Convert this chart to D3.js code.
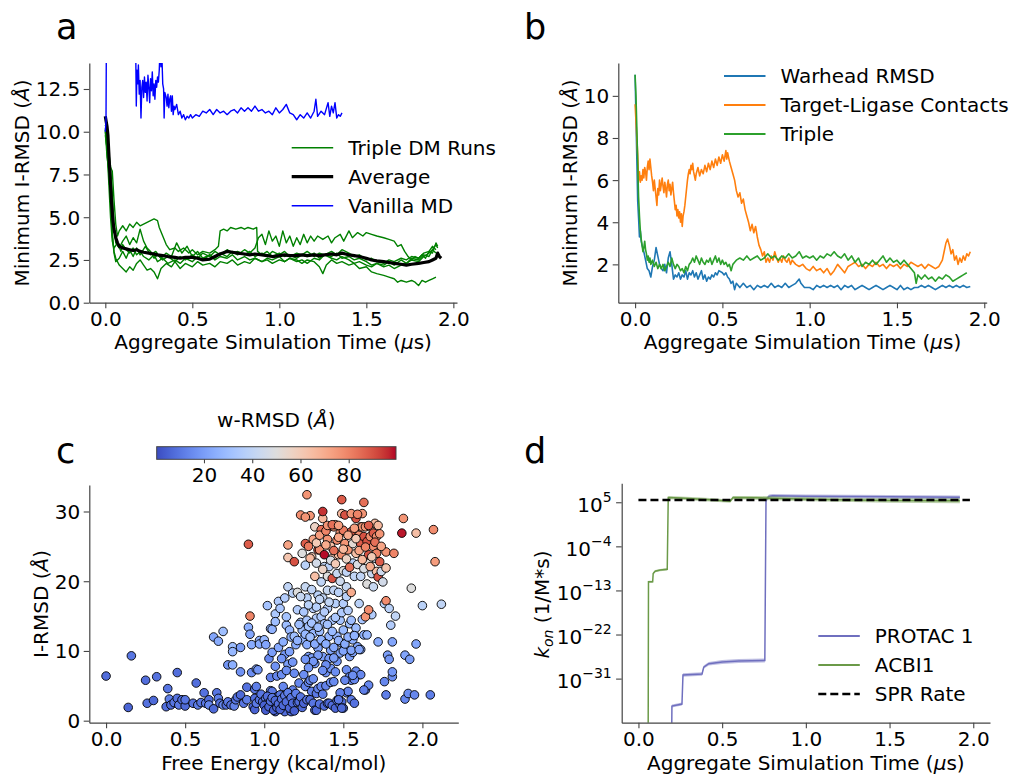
<!DOCTYPE html>
<html>
<head>
<meta charset="utf-8">
<script src="https://cdn.jsdelivr.net/npm/d3@7"></script>
<style>
  body { margin: 0; background: #fff; }
  svg { display: block; }
  text { font-family: "DejaVu Sans", sans-serif; fill: #000; }
</style>
</head>
<body>
<script>
// ---------------- data ----------------
// panel a : [time (us), min I-RMSD (A)]
const vanillaMD = [[0,10.0],[0.004,10.6],[0.006,15],[0.012,16],[0.1,17],[0.17,16],[0.175,14.5],[0.178,11.5],[0.182,13.6],[0.186,12.8],[0.19,13.9],[0.195,12.2],[0.2,13.0],[0.205,10.8],[0.21,12.6],[0.215,13.0],[0.22,12.0],[0.225,13.2],[0.23,12.3],[0.235,12.9],[0.24,11.8],[0.245,13.3],[0.25,12.6],[0.255,11.7],[0.26,13.1],[0.265,12.4],[0.27,13.5],[0.275,12.1],[0.28,12.8],[0.285,11.9],[0.29,13.0],[0.295,12.6],[0.3,13.2],[0.305,12.9],[0.31,13.6],[0.315,15],[0.32,13.8],[0.325,14.5],[0.33,12.8],[0.335,12.5],[0.338,10.8],[0.342,12.3],[0.35,12.0],[0.355,11.5],[0.36,12.2],[0.365,11.4],[0.37,11.9],[0.375,12.1],[0.38,11.2],[0.385,12.1],[0.39,11.0],[0.395,11.5],[0.4,11.3],[0.41,11.6],[0.42,11.0],[0.43,11.2],[0.44,10.8],[0.45,11.0],[0.46,10.7],[0.47,10.9],[0.48,10.8],[0.49,11.0],[0.5,10.8],[0.52,11.0],[0.54,10.9],[0.56,11.2],[0.58,11.1],[0.6,11.3],[0.62,11.0],[0.64,11.3],[0.66,11.1],[0.68,11.2],[0.7,11.0],[0.72,11.2],[0.74,11.3],[0.76,11.1],[0.78,11.4],[0.8,11.2],[0.82,11.4],[0.84,11.2],[0.86,11.5],[0.88,11.2],[0.9,11.3],[0.92,11.1],[0.94,11.2],[0.96,11.0],[0.98,11.4],[1.0,11.1],[1.02,11.3],[1.04,11.6],[1.06,11.1],[1.08,11.0],[1.1,10.7],[1.12,11.0],[1.14,10.8],[1.16,11.1],[1.18,10.8],[1.2,11.2],[1.21,11.9],[1.22,10.9],[1.24,11.2],[1.26,11.0],[1.28,11.7],[1.29,10.9],[1.3,11.5],[1.31,11.1],[1.32,11.7],[1.33,10.8],[1.34,11.0],[1.35,10.9],[1.36,11.1]];

const dmRun1 = [[0,10.2],[0.01,9.5],[0.02,8.2],[0.03,7.9],[0.04,7.7],[0.05,6.0],[0.06,4.6],[0.07,3.9],[0.08,4.2],[0.1,4.5],[0.12,4.2],[0.14,4.6],[0.16,4.4],[0.18,4.7],[0.2,4.5],[0.22,4.6],[0.24,4.7],[0.26,4.8],[0.28,4.9],[0.3,4.8],[0.31,4.4],[0.33,3.9],[0.35,3.4],[0.37,3.1],[0.4,3.2],[0.42,3.0],[0.45,3.2],[0.48,2.9],[0.5,3.1],[0.53,2.8],[0.56,3.0],[0.6,2.9],[0.63,3.1],[0.65,3.3],[0.66,4.2],[0.68,4.3],[0.7,4.2],[0.72,4.4],[0.75,4.3],[0.78,4.4],[0.8,4.3],[0.82,4.4],[0.85,4.3],[0.87,4.4],[0.875,3.0],[0.9,2.8],[0.93,3.0],[0.96,2.7],[1.0,2.9],[1.03,2.7],[1.06,2.8],[1.1,2.6],[1.13,2.8],[1.16,2.7],[1.2,2.9],[1.23,2.6],[1.26,2.8],[1.3,2.7],[1.33,2.9],[1.36,2.6],[1.4,2.7],[1.43,2.5],[1.46,2.6],[1.5,2.4],[1.53,2.2],[1.56,2.3],[1.6,2.1],[1.63,2.2],[1.66,2.0],[1.7,2.2],[1.73,2.3],[1.76,2.5],[1.8,2.4],[1.83,2.7],[1.86,2.9],[1.88,3.1],[1.9,3.4],[1.91,3.2]];
const dmRun2 = [[0,10.0],[0.01,9.0],[0.02,7.0],[0.03,5.0],[0.04,3.6],[0.05,3.2],[0.07,3.5],[0.09,3.0],[0.1,3.4],[0.12,3.1],[0.14,2.9],[0.16,3.2],[0.18,2.8],[0.2,3.0],[0.22,2.7],[0.25,2.5],[0.28,2.8],[0.3,2.4],[0.33,2.6],[0.36,2.3],[0.4,2.5],[0.43,2.3],[0.46,2.6],[0.5,2.4],[0.53,2.7],[0.56,2.5],[0.6,2.8],[0.63,2.6],[0.66,2.9],[0.7,2.7],[0.73,3.0],[0.76,2.8],[0.8,3.1],[0.83,2.9],[0.86,3.2],[0.88,3.8],[0.9,4.0],[0.92,3.4],[0.94,4.2],[0.96,3.6],[0.98,3.9],[1.0,3.3],[1.02,4.2],[1.04,3.5],[1.06,3.9],[1.08,3.3],[1.1,3.8],[1.12,3.4],[1.14,4.0],[1.16,3.5],[1.18,3.9],[1.2,3.6],[1.22,3.9],[1.25,3.7],[1.28,3.9],[1.3,3.5],[1.32,3.8],[1.35,4.0],[1.37,3.6],[1.4,4.2],[1.42,3.8],[1.45,4.1],[1.48,3.9],[1.5,4.1],[1.53,4.0],[1.56,3.9],[1.6,3.8],[1.63,3.7],[1.66,3.6],[1.68,3.3],[1.7,3.4],[1.72,3.0],[1.74,2.7],[1.76,2.5],[1.78,2.7],[1.8,2.6],[1.82,2.8],[1.84,2.6],[1.86,3.0],[1.88,2.9],[1.9,3.5],[1.91,3.3]];
const dmRun3 = [[0,9.8],[0.01,9.0],[0.02,7.5],[0.03,6.2],[0.04,4.0],[0.05,2.9],[0.06,2.4],[0.08,2.6],[0.1,3.0],[0.12,2.6],[0.14,3.1],[0.16,2.7],[0.18,3.2],[0.2,2.8],[0.23,3.3],[0.26,2.8],[0.29,3.0],[0.32,2.6],[0.35,2.9],[0.38,2.7],[0.41,3.5],[0.44,2.9],[0.47,3.3],[0.5,2.7],[0.53,3.0],[0.56,2.6],[0.6,2.8],[0.63,2.5],[0.66,2.7],[0.7,2.6],[0.73,2.8],[0.76,2.5],[0.8,2.7],[0.83,2.5],[0.86,2.6],[0.9,2.4],[0.93,2.6],[0.96,2.5],[1.0,2.7],[1.03,2.4],[1.06,2.6],[1.1,2.5],[1.13,2.3],[1.16,2.5],[1.2,2.4],[1.23,2.1],[1.25,1.7],[1.27,2.2],[1.3,2.5],[1.33,2.3],[1.36,2.4],[1.4,2.2],[1.43,2.3],[1.46,2.0],[1.5,2.1],[1.53,1.8],[1.56,1.7],[1.6,1.6],[1.63,1.5],[1.66,1.4],[1.68,1.2],[1.7,1.3],[1.73,1.2],[1.76,1.3],[1.78,1.2],[1.8,1.0],[1.82,1.3],[1.84,1.2],[1.86,1.3],[1.88,1.4],[1.9,1.5]];
const dmRun4 = [[0,10.1],[0.01,8.5],[0.02,7.8],[0.03,6.0],[0.04,4.0],[0.05,3.0],[0.06,2.6],[0.08,2.2],[0.1,2.0],[0.12,1.8],[0.14,2.1],[0.16,1.9],[0.18,2.3],[0.2,2.5],[0.22,2.2],[0.24,1.9],[0.26,2.0],[0.28,1.8],[0.3,1.4],[0.32,2.0],[0.35,2.3],[0.38,2.1],[0.4,2.4],[0.43,2.0],[0.46,2.3],[0.5,2.1],[0.53,2.4],[0.56,2.2],[0.6,2.3],[0.63,2.1],[0.66,2.4],[0.7,2.3],[0.73,2.5],[0.76,2.2],[0.8,2.4],[0.83,2.3],[0.86,2.6],[0.9,2.4],[0.93,2.5],[0.96,2.3],[1.0,2.5],[1.03,2.4],[1.06,2.6],[1.1,2.4],[1.13,2.5],[1.16,2.3],[1.2,2.6],[1.23,2.5],[1.26,2.8],[1.3,2.6],[1.33,2.5],[1.36,2.7],[1.4,2.5],[1.43,2.3],[1.46,2.4],[1.5,2.2],[1.53,2.1],[1.56,2.3],[1.6,2.2],[1.63,2.4],[1.66,2.2],[1.7,2.5],[1.73,2.3],[1.76,2.6],[1.8,2.5],[1.83,2.8],[1.86,2.7],[1.88,3.1],[1.9,2.9]];
const dmRun5 = [[0,10.4],[0.01,10.0],[0.02,8.8],[0.03,8.0],[0.04,6.5],[0.05,4.5],[0.06,3.5],[0.08,3.2],[0.1,3.6],[0.12,3.9],[0.14,3.4],[0.16,3.8],[0.18,3.5],[0.2,4.3],[0.22,3.6],[0.24,3.2],[0.26,3.0],[0.28,2.6],[0.3,2.8],[0.33,2.5],[0.36,2.7],[0.4,2.4],[0.43,2.7],[0.46,2.5],[0.5,2.8],[0.53,2.6],[0.56,2.9],[0.6,2.7],[0.63,3.0],[0.66,2.8],[0.7,3.1],[0.73,2.9],[0.76,3.0],[0.8,2.8],[0.83,3.0],[0.86,2.7],[0.9,2.9],[0.93,2.7],[0.96,3.0],[1.0,2.8],[1.03,3.0],[1.06,2.7],[1.1,2.9],[1.13,2.8],[1.16,3.0],[1.2,2.7],[1.23,2.9],[1.26,2.8],[1.3,3.0],[1.33,2.8],[1.36,3.1],[1.4,2.9],[1.43,2.7],[1.46,2.8],[1.5,2.5],[1.53,2.6],[1.56,2.4],[1.6,2.3],[1.63,2.5],[1.66,2.4],[1.7,2.6],[1.73,2.5],[1.76,2.7],[1.8,2.6],[1.83,2.9],[1.86,3.0],[1.88,3.3],[1.9,3.1]];
const dmAverage = [[0,10.9],[0.005,10.6],[0.01,10.3],[0.015,9.8],[0.02,8.8],[0.025,7.8],[0.03,6.9],[0.035,6.0],[0.04,5.3],[0.045,4.7],[0.05,4.3],[0.06,3.8],[0.07,3.5],[0.08,3.3],[0.1,3.2],[0.12,3.15],[0.14,3.1],[0.16,3.05],[0.18,3.1],[0.2,3.0],[0.22,2.95],[0.25,2.9],[0.28,2.85],[0.3,2.8],[0.33,2.75],[0.36,2.7],[0.4,2.65],[0.43,2.6],[0.46,2.65],[0.5,2.65],[0.53,2.6],[0.56,2.5],[0.6,2.55],[0.63,2.7],[0.66,2.85],[0.7,3.0],[0.73,2.95],[0.76,2.9],[0.8,2.85],[0.83,2.8],[0.86,2.85],[0.9,2.8],[0.93,2.75],[0.96,2.7],[1.0,2.75],[1.03,2.8],[1.06,2.75],[1.1,2.75],[1.13,2.8],[1.16,2.75],[1.2,2.8],[1.23,2.75],[1.26,2.8],[1.3,2.85],[1.33,2.8],[1.36,2.9],[1.38,2.85],[1.4,2.8],[1.43,2.75],[1.46,2.7],[1.5,2.6],[1.53,2.5],[1.56,2.45],[1.6,2.4],[1.63,2.35],[1.66,2.3],[1.7,2.25],[1.73,2.2],[1.76,2.25],[1.8,2.3],[1.83,2.35],[1.86,2.4],[1.88,2.5],[1.9,2.6],[1.91,2.9],[1.92,2.7],[1.93,2.6]];

// panel b : [time (us), min I-RMSD (A)]
const warheadRMSD = [[0,11.0],[0.005,9.0],[0.01,7.0],[0.015,5.0],[0.02,4.2],[0.025,3.3],[0.03,3.6],[0.035,3.1],[0.04,2.9],[0.05,2.6],[0.06,2.2],[0.07,1.8],[0.08,1.7],[0.09,1.4],[0.1,1.9],[0.11,2.2],[0.12,2.8],[0.13,2.4],[0.14,2.0],[0.15,1.8],[0.16,1.7],[0.17,2.0],[0.18,1.6],[0.19,2.3],[0.2,2.6],[0.21,2.0],[0.22,1.3],[0.23,1.5],[0.24,1.4],[0.25,1.6],[0.26,1.3],[0.27,1.5],[0.28,1.4],[0.29,1.7],[0.3,1.3],[0.31,1.6],[0.32,1.5],[0.33,1.7],[0.34,1.4],[0.35,1.6],[0.36,1.3],[0.37,1.5],[0.38,1.7],[0.39,1.3],[0.4,1.5],[0.41,1.2],[0.42,1.4],[0.43,1.3],[0.44,1.5],[0.45,1.4],[0.46,1.6],[0.47,1.5],[0.48,1.7],[0.5,1.6],[0.51,1.5],[0.52,1.6],[0.53,1.4],[0.54,1.3],[0.55,1.1],[0.56,1.2],[0.57,0.8],[0.58,1.1],[0.6,0.9],[0.62,1.1],[0.64,0.9],[0.66,1.0],[0.68,0.8],[0.7,1.0],[0.72,0.9],[0.74,1.0],[0.76,0.9],[0.78,1.1],[0.8,0.9],[0.82,1.0],[0.84,0.9],[0.86,1.1],[0.88,0.9],[0.9,1.0],[0.92,1.1],[0.94,1.3],[0.95,1.1],[0.97,0.9],[1.0,0.9],[1.02,0.8],[1.04,1.0],[1.06,0.9],[1.08,1.0],[1.1,0.9],[1.12,1.0],[1.14,0.9],[1.16,1.0],[1.18,0.8],[1.2,1.0],[1.22,0.9],[1.24,1.0],[1.26,0.8],[1.28,0.9],[1.3,1.0],[1.32,0.9],[1.34,0.8],[1.36,0.9],[1.38,1.0],[1.4,0.9],[1.42,0.8],[1.44,0.9],[1.46,1.0],[1.48,0.9],[1.5,0.8],[1.52,1.0],[1.54,0.8],[1.56,0.9],[1.58,0.8],[1.6,0.9],[1.62,0.9],[1.64,1.0],[1.66,0.9],[1.68,1.0],[1.7,0.9],[1.72,0.8],[1.74,0.9],[1.76,1.0],[1.78,0.9],[1.8,1.0],[1.82,0.9],[1.84,1.0],[1.86,0.9],[1.88,1.0],[1.9,0.9],[1.92,0.95]];
const ligaseContacts = [[0,9.6],[0.005,8.8],[0.01,8.0],[0.015,7.2],[0.02,6.0],[0.025,6.4],[0.03,5.9],[0.035,6.2],[0.04,6.0],[0.045,6.5],[0.05,6.1],[0.055,6.6],[0.06,6.4],[0.065,6.0],[0.07,6.6],[0.075,6.9],[0.08,6.5],[0.085,7.0],[0.09,6.6],[0.095,6.2],[0.1,5.9],[0.105,5.5],[0.11,6.0],[0.115,5.6],[0.12,5.2],[0.125,4.8],[0.13,5.6],[0.135,5.3],[0.14,6.0],[0.145,5.5],[0.15,5.8],[0.155,6.1],[0.16,5.7],[0.165,5.4],[0.17,5.9],[0.175,5.6],[0.18,5.2],[0.185,5.8],[0.19,6.0],[0.195,5.5],[0.2,5.8],[0.205,5.3],[0.21,5.6],[0.215,5.9],[0.22,5.4],[0.225,5.0],[0.23,4.6],[0.235,4.8],[0.24,4.3],[0.245,4.6],[0.25,4.2],[0.255,4.5],[0.26,4.0],[0.265,4.4],[0.27,3.8],[0.275,4.3],[0.28,4.5],[0.285,4.8],[0.29,5.2],[0.295,5.6],[0.3,6.0],[0.305,6.3],[0.31,6.5],[0.315,6.3],[0.32,6.7],[0.325,6.5],[0.33,6.8],[0.335,6.4],[0.34,6.2],[0.345,6.0],[0.35,6.3],[0.36,6.6],[0.37,6.2],[0.38,6.5],[0.39,6.3],[0.4,6.7],[0.41,6.4],[0.42,6.8],[0.43,6.5],[0.44,6.9],[0.45,6.6],[0.46,7.0],[0.47,6.7],[0.48,7.1],[0.49,6.8],[0.5,7.2],[0.51,6.9],[0.52,7.4],[0.525,7.0],[0.53,7.3],[0.54,6.9],[0.55,6.6],[0.56,6.3],[0.57,6.0],[0.58,5.5],[0.59,5.2],[0.6,5.4],[0.61,4.9],[0.62,5.1],[0.63,4.6],[0.64,4.3],[0.65,4.0],[0.66,3.6],[0.67,3.9],[0.68,3.5],[0.69,3.8],[0.7,3.3],[0.71,2.9],[0.72,2.7],[0.73,2.4],[0.74,2.6],[0.75,2.1],[0.76,2.3],[0.77,2.1],[0.78,2.4],[0.79,2.2],[0.8,2.6],[0.81,2.3],[0.82,2.1],[0.83,2.3],[0.84,2.1],[0.85,2.4],[0.86,2.2],[0.87,2.1],[0.88,2.3],[0.89,2.0],[0.9,2.2],[0.92,2.0],[0.94,1.9],[0.96,2.0],[0.98,1.8],[1.0,1.7],[1.02,1.9],[1.04,1.7],[1.06,1.8],[1.08,1.6],[1.1,1.8],[1.12,1.5],[1.14,1.7],[1.16,2.0],[1.18,1.8],[1.2,1.6],[1.22,1.9],[1.24,2.0],[1.26,2.1],[1.28,1.9],[1.3,2.0],[1.32,1.8],[1.34,2.0],[1.36,1.9],[1.38,2.1],[1.4,1.9],[1.42,2.0],[1.44,1.8],[1.46,2.0],[1.48,1.9],[1.5,2.0],[1.52,1.8],[1.54,2.0],[1.56,1.9],[1.58,2.1],[1.6,2.0],[1.62,1.9],[1.64,2.0],[1.66,1.8],[1.68,2.0],[1.7,1.9],[1.72,1.8],[1.74,1.9],[1.76,2.2],[1.77,2.6],[1.78,3.0],[1.79,3.2],[1.8,2.9],[1.81,2.5],[1.82,2.7],[1.83,2.2],[1.84,2.4],[1.85,2.0],[1.86,2.3],[1.87,2.1],[1.88,2.4],[1.89,2.2],[1.9,2.5],[1.91,2.4],[1.92,2.6]];
const tripleRMSD = [[0,11.0],[0.005,10.0],[0.01,8.5],[0.015,6.8],[0.02,5.2],[0.025,4.3],[0.03,3.6],[0.035,3.2],[0.04,2.9],[0.045,2.6],[0.05,2.8],[0.055,3.1],[0.06,2.7],[0.065,2.5],[0.07,2.2],[0.075,2.4],[0.08,2.1],[0.085,2.3],[0.09,2.0],[0.1,2.2],[0.11,1.9],[0.12,2.1],[0.13,1.8],[0.14,2.0],[0.15,1.8],[0.16,2.0],[0.17,1.7],[0.18,1.9],[0.19,2.1],[0.2,1.9],[0.21,2.3],[0.22,2.0],[0.23,1.8],[0.24,2.0],[0.25,1.9],[0.26,1.7],[0.27,1.8],[0.28,1.6],[0.29,1.9],[0.3,1.7],[0.31,2.0],[0.32,2.1],[0.33,2.3],[0.34,2.1],[0.35,2.4],[0.36,2.2],[0.37,2.0],[0.38,2.3],[0.39,2.1],[0.4,2.0],[0.41,2.2],[0.42,2.1],[0.43,2.3],[0.44,2.0],[0.45,2.2],[0.46,2.4],[0.47,2.1],[0.48,2.3],[0.49,2.0],[0.5,2.2],[0.51,2.0],[0.52,2.1],[0.53,1.9],[0.54,2.0],[0.55,1.7],[0.56,2.0],[0.57,2.1],[0.58,2.2],[0.6,2.3],[0.62,2.2],[0.64,2.4],[0.66,2.2],[0.68,2.3],[0.7,2.4],[0.72,2.2],[0.74,2.3],[0.76,2.5],[0.78,2.3],[0.8,2.4],[0.82,2.2],[0.84,2.4],[0.86,2.3],[0.88,2.5],[0.9,2.3],[0.92,2.4],[0.94,2.6],[0.96,2.3],[0.98,2.4],[1.0,2.3],[1.02,2.4],[1.04,2.2],[1.06,2.4],[1.08,2.3],[1.1,2.5],[1.12,2.4],[1.14,2.6],[1.16,2.4],[1.18,2.3],[1.2,2.5],[1.22,2.2],[1.24,2.4],[1.26,2.1],[1.28,2.3],[1.3,1.9],[1.32,2.1],[1.34,2.0],[1.36,2.2],[1.38,2.0],[1.4,2.2],[1.42,2.4],[1.44,2.1],[1.46,2.3],[1.48,2.1],[1.5,2.2],[1.52,2.0],[1.54,2.2],[1.56,2.0],[1.58,1.8],[1.6,1.6],[1.61,1.1],[1.62,1.5],[1.64,1.3],[1.66,1.5],[1.68,1.3],[1.7,1.4],[1.72,1.2],[1.74,1.4],[1.76,1.3],[1.78,1.5],[1.8,1.4],[1.82,1.2],[1.84,1.3],[1.86,1.4],[1.88,1.5],[1.9,1.6]];

// panel c : [free energy (kcal/mol), I-RMSD (A), w-RMSD (A)]
const scatterPoints = [
[0.00,6.4,8],[0.14,1.9,6],[0.16,9.3,10],[0.25,5.8,8],[0.26,2.5,9],[0.30,2.9,7],[0.32,6.3,9],[0.39,4.6,10],[0.38,2.0,8],[0.40,3.1,12],[0.41,2.25,7],[0.43,2.6,10],[0.45,3.2,9],[0.45,6.9,8],[0.46,2.25,11],[0.48,3.0,8],[0.50,2.1,7],[0.50,3.0,10],[0.55,2.5,9],[0.57,5.4,8],[0.58,2.25,12],[0.60,2.6,10],[0.62,4.0,9],[0.63,2.5,11],[0.65,3.0,8],[0.65,2.25,14],[0.68,1.7,7],[0.70,4.0,10],[0.71,3.2,12],[0.72,2.5,9],[0.74,2.25,15],[0.76,2.25,8],[0.77,2.7,11],[0.79,2.25,9],[0.81,2.1,13],[0.82,3.0,10],[0.83,3.4,9],[0.85,3.7,7],[0.87,2.5,10],[0.89,3.0,12],[0.89,4.8,9],
[0.68,12.0,22],[0.71,11.4,24],[0.74,12.8,30],[0.77,8.0,18],[0.80,8.0,25],[0.80,10.6,30],[0.80,9.9,28],[0.85,10.5,20],[0.85,7.0,17],
[0.90,25.3,88],[0.91,15.0,80],[0.90,13.4,25],[0.91,12.4,22],[0.92,10.9,24],[0.92,6.9,16],[0.93,2.0,6],[0.94,1.6,5],[0.94,4.5,10],[0.94,3.2,8],[0.95,2.5,11],[0.95,7.4,20],[0.95,4.9,12],[0.96,7.3,18],[0.97,3.0,9],[0.97,11.5,26],[0.97,11.0,24],[0.98,3.8,10],[0.99,2.7,7],[1.00,11.6,28],[1.01,10.9,22],[1.01,3.2,12],[1.02,2.5,9],[1.02,16.5,32],[1.03,8.9,14],[1.03,3.7,10],[1.04,6.2,12],[1.04,4.3,15],[1.04,13.2,28],[1.05,13.1,26],[1.05,1.9,6],[1.05,4.2,11],[1.06,2.5,8],[1.06,1.8,7],[1.07,1.3,5],[1.07,15.3,34],[1.07,14.2,30],[1.08,6.4,14],[1.08,3.0,9],[1.08,3.4,12],[1.08,2.25,6],[1.09,17.1,35],[1.10,16.1,33],[1.10,3.7,10],[1.11,6.6,16],[1.12,4.9,14],[1.13,17.6,36],[1.13,1.3,8],[1.13,9.5,18],[1.14,13.7,30],[1.14,14.9,32],[1.15,8.1,20],[1.15,19.2,40],[1.15,25.2,72],[1.15,23.4,62],[1.16,13.0,28],[1.17,12.0,26],[1.17,1.3,6],[1.18,4.4,12],[1.18,18.3,38],[1.19,22.8,90],[1.19,12.1,30],[1.20,10.9,24],[1.21,15.9,36],[1.21,18.4,50],
[1.00,2.2,5],[1.01,1.5,4],[1.02,3.5,8],[1.03,2.0,6],[1.04,2.8,9],[1.05,3.3,10],[1.06,1.5,5],[1.07,2.9,7],[1.08,1.9,6],[1.09,2.4,8],[1.10,1.6,5],[1.11,3.1,9],[1.12,2.2,7],[1.13,3.6,11],[1.14,2.7,8],[1.15,4.0,12],[1.16,1.8,6],[1.17,3.3,10],[1.18,2.5,7],[1.19,1.4,5],[1.20,3.9,12],[1.21,2.6,9],[1.22,2.7,8],[1.22,5.4,14],[1.23,3.4,10],[1.24,1.9,7],[1.25,2.5,6],[1.25,6.6,16],[1.26,4.9,13],[1.27,3.0,9],[1.28,5.5,15],[1.29,5.8,14],[1.29,3.0,8],[1.30,4.2,12],[1.31,2.5,10],[1.31,6.0,16],[1.32,1.5,6],[1.33,1.5,7],[1.33,3.9,11],[1.34,4.6,13],[1.35,2.4,9],[1.36,4.9,14],[1.37,3.8,12],[1.38,2.1,8],[1.39,5.0,13],[1.40,2.5,9],[1.41,2.5,7],[1.42,5.5,16],[1.43,2.2,8],[1.44,5.6,15],[1.45,1.8,6],[1.46,2.9,10],[1.47,3.1,11],[1.48,2.3,9],[1.49,2.7,8],[1.50,1.8,7],[1.52,4.0,12],[1.53,4.2,13],[1.55,3.0,11],[1.57,2.5,9],
[1.23,14.1,34],[1.24,13.0,30],[1.24,11.6,27],[1.26,19.2,42],[1.27,17.6,38],[1.27,14.4,33],[1.28,13.5,31],[1.28,9.2,20],[1.30,18.8,40],[1.31,16.1,36],[1.31,12.5,28],[1.32,8.2,18],[1.33,14.7,35],[1.34,18.0,38],[1.34,10.4,22],[1.35,12.8,30],[1.36,14.9,34],[1.37,9.2,20],[1.37,17.6,40],[1.38,13.9,32],[1.39,6.9,16],[1.40,18.7,42],[1.40,16.1,36],[1.41,12.1,27],[1.42,10.1,22],[1.42,7.5,18],[1.43,14.4,33],[1.44,18.7,40],[1.45,16.8,37],[1.46,12.1,28],[1.47,18.4,38],[1.48,14.4,32],[1.48,9.7,22],[1.49,11.1,24],[1.50,16.8,36],[1.52,7.3,16],[1.52,19.2,42],[1.52,17.8,38],[1.54,13.9,30],[1.54,9.2,20],[1.54,6.3,15],[1.55,14.4,30],[1.55,5.8,14],[1.56,11.6,25],[1.57,12.3,26],[1.58,6.6,16],[1.59,10.6,22],[1.60,6.6,16],[1.60,16.8,38],[1.63,12.3,26],[1.64,4.4,12],[1.65,12.3,28],[1.66,5.1,14],[1.68,15.2,36],
[1.21,11.5,26],[1.22,13.8,30],[1.23,17.8,42],[1.25,15.6,34],[1.26,12.4,28],[1.27,10.9,24],[1.28,16.6,38],[1.29,12.0,30],[1.30,14.0,32],[1.30,9.0,20],[1.32,11.0,24],[1.33,16.3,37],[1.34,13.4,30],[1.35,17.4,40],[1.36,11.6,27],[1.38,15.6,36],[1.39,11.0,25],[1.40,13.8,31],[1.41,17.0,40],[1.43,12.8,29],[1.44,10.5,23],[1.45,14.8,34],[1.46,8.5,18],[1.47,11.5,26],[1.49,15.5,35],[1.50,13.0,29],[1.51,10.5,23],[1.53,15.8,36],[1.56,9.8,21],[1.58,13.3,30],[1.61,10.2,22],[1.62,14.5,33],
[1.05,9.8,20],[1.07,7.8,17],[1.09,10.5,23],[1.11,8.9,18],[1.12,11.3,25],[1.14,7.2,16],[1.16,9.9,21],[1.18,8.4,18],[1.19,6.8,15],
[1.50,10.0,22],[1.51,11.0,24],[1.53,12.0,26],[1.55,10.1,22],[1.57,12.2,26],[1.58,7.1,15],[1.60,10.2,22],[1.61,6.6,14],[1.63,4.4,12],[1.57,5.9,14],[1.56,6.5,16],[1.48,4.0,12],[1.51,5.8,14],[1.47,3.0,11],[1.49,1.8,7],[1.41,8.9,18],[1.39,8.0,16],[1.44,9.0,20],[1.45,7.0,16],[1.37,7.2,16],[1.34,9.4,20],[1.31,8.5,18],[1.28,7.6,18],[1.26,8.8,18],
[1.23,29.5,78],[1.24,24.0,50],[1.26,25.4,88],[1.26,22.3,38],[1.27,32.4,76],[1.29,29.4,76],[1.30,23.5,62],[1.32,27.8,56],[1.32,20.7,64],[1.34,24.5,90],[1.35,24.5,78],[1.36,27.4,84],[1.36,19.9,40],[1.37,29.0,66],[1.37,30.0,95],[1.38,23.8,99],[1.38,22.1,40],[1.40,26.0,76],[1.40,20.7,50],[1.41,27.8,78],[1.41,22.1,38],[1.42,25.0,64],[1.43,20.4,90],[1.43,23.3,62],[1.44,27.8,76],[1.45,28.1,70],[1.46,25.9,78],[1.46,21.1,42],[1.47,23.8,64],[1.48,26.9,76],[1.49,29.7,66],[1.49,23.8,78],[1.49,31.7,88],[1.50,21.5,50],[1.51,25.4,76],[1.51,29.5,90],[1.52,21.3,40],[1.53,24.5,76],[1.55,18.4,70],[1.55,27.1,88],[1.56,22.6,38],[1.56,25.4,52],[1.57,20.7,40],[1.58,29.0,90],[1.58,24.0,64],[1.60,26.6,78],[1.61,20.7,40],[1.61,27.8,66],[1.61,25.4,88],[1.62,27.8,76],[1.62,29.7,76],[1.63,26.4,90],[1.63,31.3,84],[1.64,14.9,76],[1.64,27.8,76],[1.65,25.7,90],[1.65,19.6,50],[1.66,22.6,52],[1.66,15.9,78],[1.66,23.8,90],[1.67,27.8,70],[1.67,26.4,78],[1.68,21.1,42],[1.69,26.9,88],[1.69,25.0,78],[1.69,19.2,42],[1.70,28.3,66],[1.70,23.3,44],[1.71,21.4,64],[1.71,26.4,78],[1.71,24.0,80],[1.72,20.6,90],[1.73,26.8,76],[1.73,22.8,88],[1.74,21.4,44],[1.75,19.9,46],[1.76,16.8,38],[1.77,17.2,78],[1.77,24.2,76],[1.77,21.9,62],[1.82,24.0,80],
[1.28,25.0,82],[1.29,23.3,66],[1.31,26.0,72],[1.33,25.5,60],[1.33,22.6,46],[1.35,26.6,74],[1.37,21.7,56],[1.39,25.2,70],[1.39,27.2,80],[1.42,23.0,48],[1.44,24.4,84],[1.45,22.5,60],[1.47,26.3,72],[1.48,20.0,44],[1.50,24.6,66],[1.50,27.3,82],[1.52,23.2,56],[1.53,26.6,70],[1.54,22.0,84],[1.57,27.6,74],[1.58,26.1,60],[1.59,22.4,48],[1.60,24.4,72],[1.62,23.1,66],[1.63,21.8,48],[1.64,24.9,80],[1.67,22.1,70],[1.68,23.5,60],[1.70,25.6,84],[1.72,28.0,66],[1.74,25.0,72],[1.26,29.2,76],[1.40,28.0,76],[1.43,28.1,84],[1.47,28.0,74],[1.55,29.7,76],[1.59,29.6,80],[1.66,28.0,88],
[1.78,9.4,20],[1.79,8.8,18],[1.79,16.1,38],[1.80,13.7,36],[1.81,6.3,16],[1.81,7.0,18],[1.81,11.3,22],[1.83,15.0,40],[1.76,5.6,14],[1.77,3.7,12],[1.72,11.3,24],[1.87,26.9,98],[1.88,29.0,76],[1.89,9.4,22],[1.89,3.1,14],[1.91,3.9,16],[1.92,8.8,20],[1.93,19.0,50],[1.95,3.7,14],[1.96,26.9,64],[1.96,11.0,22],[2.00,16.5,38],[2.05,3.7,12],[2.07,27.4,78],[2.08,22.8,74],[2.12,16.7,40]
];
const colorbarTicks = [20, 40, 60, 80];

// panel d : [time (us), log10 k_on lower, log10 k_on upper]
const protac1LogKon = [[0.198,-45,-45],[0.2,-36.9,-36.3],[0.26,-36.5,-35.9],[0.266,-30.6,-29.9],[0.38,-30.4,-29.7],[0.39,-29.0,-28.3],[0.42,-28.3,-27.6],[0.5,-28.0,-27.2],[0.6,-27.8,-27.0],[0.755,-27.7,-26.9],[0.762,5.0,5.9],[0.78,5.8,6.6],[0.8,6.0,6.7],[1.0,5.9,6.6],[1.5,5.7,6.5],[1.92,5.6,6.4]];
const acbi1LogKon = [[0.058,-45,-45],[0.06,-11.5,-11.0],[0.085,-11.5,-11.0],[0.088,-9.8,-9.3],[0.1,-9.3,-8.85],[0.13,-9.1,-8.6],[0.172,-8.95,-8.4],[0.178,5.6,6.3],[0.25,5.5,6.2],[0.35,5.3,6.0],[0.45,5.1,5.8],[0.548,4.9,5.5],[0.565,5.6,6.3],[0.7,5.5,6.3],[0.9,5.3,6.1],[1.2,5.1,5.9],[1.5,4.9,5.8],[1.92,4.8,5.8]];
const sprTime = [0, 1.98];
const sprLogKon = 5.47;
const konTickExps = [5, -4, -13, -22, -31];

const timeTicks = [0, 0.5, 1.0, 1.5, 2.0];

// ---------------- layout ----------------
const FONT = 20;
const TICK = 5.6;
const svg = d3.select('body').append('svg').attr('width', 1010).attr('height', 775);

const coolwarm = ['#3b4cc0','#445acc','#4d68d7','#5775e1','#6282ea','#6c8ef1','#779af7','#82a5fb','#8db0fe','#98b9ff','#a3c2ff','#aec9fd','#b8d0f9','#c2d5f4','#ccd9ee','#d5dbe6','#dddddd','#e5d8d1','#ecd3c5','#f1ccb9','#f5c4ad','#f7bba0','#f7b194','#f7a687','#f49a7b','#f18d6f','#ec7f63','#e57058','#de604d','#d55042','#cb3e38','#c0282f','#b40426'];
const cmap = d3.piecewise(d3.interpolateRgb, coolwarm);

function makePanel(box, xDomain, yScale) {
  const x = d3.scaleLinear().domain(xDomain).range([box.l, box.r]);
  const y = yScale.range([box.b, box.t]);
  const id = 'clip' + Math.round(box.l) + Math.round(box.t);
  svg.append('clipPath').attr('id', id).append('rect')
    .attr('x', box.l).attr('y', box.t).attr('width', box.r - box.l).attr('height', box.b - box.t);
  const plot = svg.append('g').attr('clip-path', `url(#${id})`);
  return { x, y, plot, box };
}

function styleAxis(sel) {
  sel.attr('font-family', '"DejaVu Sans", sans-serif').attr('font-size', FONT);
  sel.select('.domain').attr('stroke', '#444').attr('stroke-width', 1.2);
  sel.selectAll('.tick line').attr('stroke', '#444').attr('stroke-width', 1.1);
  sel.selectAll('.tick text').attr('fill', '#000');
}

function drawAxes(p, xTicks, yTicks, yFormat) {
  const gx = svg.append('g').attr('transform', `translate(0,${p.box.b})`)
    .call(d3.axisBottom(p.x).tickValues(xTicks).tickSize(TICK).tickSizeOuter(0).tickFormat(d3.format('.1f')));
  styleAxis(gx);
  gx.selectAll('.tick text').attr('y', 23).attr('dy', 0);
  const gy = svg.append('g').attr('transform', `translate(${p.box.l},0)`)
    .call(d3.axisLeft(p.y).tickValues(yTicks).tickSize(TICK).tickSizeOuter(0).tickFormat(yFormat));
  styleAxis(gy);
  gy.selectAll('.tick text').attr('x', -9).attr('dy', '0.35em');
  return gy;
}

function xLabel(p, baseline, parts) {
  const t = svg.append('text').attr('x', (p.box.l + p.box.r) / 2).attr('y', baseline)
    .attr('text-anchor', 'middle').attr('font-size', FONT);
  parts.forEach(([s, it]) => t.append('tspan').attr('font-style', it ? 'italic' : 'normal').text(s));
}
function yLabel(xBase, yCenter, parts) {
  const t = svg.append('text').attr('transform', `translate(${xBase},${yCenter}) rotate(-90)`)
    .attr('text-anchor', 'middle').attr('font-size', FONT);
  parts.forEach(([s, it]) => t.append('tspan').attr('font-style', it ? 'italic' : 'normal').text(s));
  return t;
}
function panelLetter(x, y, s) {
  svg.append('text').attr('x', x).attr('y', y).attr('font-size', 35).text(s);
}
function legend(x0, y0, rows) {
  rows.forEach((r, i) => {
    const yy = y0 + i * 29;
    svg.append('line').attr('x1', x0).attr('x2', x0 + 41.5).attr('y1', yy).attr('y2', yy)
      .attr('stroke', r.color).attr('stroke-width', r.width).attr('stroke-dasharray', r.dash || null);
    svg.append('text').attr('x', x0 + 56.5).attr('y', yy).attr('dy', '0.35em')
      .attr('font-size', FONT).text(r.label);
  });
}

const timeLabel = [['Aggregate Simulation Time ('], ['\u03bc', true], ['s)']];

// ---------------- panel a ----------------
const pa = makePanel({ l: 89.3, r: 457, t: 63, b: 302.7 }, [-0.092, 2.021], d3.scaleLinear().domain([0, 14.02]));
const lineA = d3.line().x(d => pa.x(d[0])).y(d => pa.y(d[1]));
[dmRun1, dmRun2, dmRun3, dmRun4, dmRun5].forEach(run => {
  pa.plot.append('path').datum(run).attr('d', lineA).attr('fill', 'none')
    .attr('stroke', '#008000').attr('stroke-width', 1.4).attr('stroke-linejoin', 'round');
});
pa.plot.append('path').datum(dmAverage).attr('d', lineA).attr('fill', 'none')
  .attr('stroke', '#000').attr('stroke-width', 3.2).attr('stroke-linejoin', 'round');
pa.plot.append('path').datum(vanillaMD).attr('d', lineA).attr('fill', 'none')
  .attr('stroke', '#0000ff').attr('stroke-width', 1.4).attr('stroke-linejoin', 'round');
drawAxes(pa, timeTicks, [0, 2.5, 5, 7.5, 10, 12.5], d3.format('.1f'));
xLabel(pa, 349, timeLabel);
yLabel(28.5, 183, [['Minimum I-RMSD ('], ['\u00c5', true], [')']]);
panelLetter(56, 39.3, 'a');
legend(291.7, 147.7, [
  { label: 'Triple DM Runs', color: '#008000', width: 1.4 },
  { label: 'Average', color: '#000', width: 3.2 },
  { label: 'Vanilla MD', color: '#0000ff', width: 1.4 }
]);

// ---------------- panel b ----------------
const pb = makePanel({ l: 618.3, r: 986.7, t: 63, b: 302.7 }, [-0.0962, 2.014], d3.scaleLinear().domain([0.18, 11.56]));
const lineB = d3.line().x(d => pb.x(d[0])).y(d => pb.y(d[1]));
[[warheadRMSD, '#1f77b4'], [ligaseContacts, '#ff7f0e'], [tripleRMSD, '#2ca02c']].forEach(([s, c]) => {
  pb.plot.append('path').datum(s).attr('d', lineB).attr('fill', 'none')
    .attr('stroke', c).attr('stroke-width', 1.6).attr('stroke-linejoin', 'round');
});
drawAxes(pb, timeTicks, [2, 4, 6, 8, 10], d3.format('d'));
xLabel(pb, 349, timeLabel);
yLabel(577, 183, [['Minimum I-RMSD ('], ['\u00c5', true], [')']]);
panelLetter(524, 39.3, 'b');
legend(724, 76, [
  { label: 'Warhead RMSD', color: '#1f77b4', width: 1.8 },
  { label: 'Target-Ligase Contacts', color: '#ff7f0e', width: 1.8 },
  { label: 'Triple', color: '#2ca02c', width: 1.8 }
]);

// ---------------- panel c ----------------
const pc = makePanel({ l: 89.3, r: 458.3, t: 485, b: 722.7 }, [-0.106, 2.227], d3.scaleLinear().domain([-0.29, 33.8]));
const wScale = d3.scaleLinear().domain([0.4, 99.6]).range([0, 1]).clamp(true);
svg.append('g').selectAll('circle').data(scatterPoints).join('circle')
  .attr('cx', d => pc.x(d[0])).attr('cy', d => pc.y(d[1])).attr('r', 4.3)
  .attr('fill', d => cmap(wScale(d[2]))).attr('stroke', '#000').attr('stroke-width', 0.9);
drawAxes(pc, timeTicks, [0, 10, 20, 30], d3.format('d'));
xLabel(pc, 770, [['Free Energy (kcal/mol)']]);
yLabel(48, 604, [['I-RMSD ('], ['\u00c5', true], [')']]);
panelLetter(56, 462.7, 'c');

// colorbar
const cb = { l: 156.7, r: 396, t: 446.7, b: 459.3 };
const cbX = d3.scaleLinear().domain([0.4, 99.6]).range([cb.l, cb.r]);
const grad = svg.append('defs').append('linearGradient').attr('id', 'cwgrad');
coolwarm.forEach((c, i) => grad.append('stop').attr('offset', i / (coolwarm.length - 1)).attr('stop-color', c));
svg.append('rect').attr('x', cb.l).attr('y', cb.t).attr('width', cb.r - cb.l).attr('height', cb.b - cb.t)
  .attr('fill', 'url(#cwgrad)').attr('stroke', '#444').attr('stroke-width', 1);
const gcb = svg.append('g').attr('transform', `translate(0,${cb.b})`)
  .call(d3.axisBottom(cbX).tickValues(colorbarTicks).tickSize(4).tickSizeOuter(0));
styleAxis(gcb);
gcb.select('.domain').remove();
gcb.selectAll('.tick text').attr('y', 23).attr('dy', 0);
const cbl = svg.append('text').attr('x', (cb.l + cb.r) / 2).attr('y', 427).attr('text-anchor', 'middle').attr('font-size', FONT);
cbl.append('tspan').text('w-RMSD (');
cbl.append('tspan').attr('font-style', 'italic').text('\u00c5');
cbl.append('tspan').text(')');

// ---------------- panel d ----------------
const pd = makePanel({ l: 621.7, r: 990, t: 483.3, b: 722.7 }, [-0.1, 2.1], d3.scaleLog().domain([1e-40, Math.pow(10, 8.87)]));
const kon = e => Math.pow(10, e);
function kinetic(series, color) {
  pd.plot.append('path').datum(series)
    .attr('d', d3.area().x(d => pd.x(d[0])).y0(d => pd.y(kon(d[1]))).y1(d => pd.y(kon(d[2]))))
    .attr('fill', color).attr('fill-opacity', 0.45).attr('stroke', 'none');
  pd.plot.append('path').datum(series)
    .attr('d', d3.line().x(d => pd.x(d[0])).y(d => pd.y(kon((d[1] + d[2]) / 2))))
    .attr('fill', 'none').attr('stroke', color).attr('stroke-width', 1.5);
}
kinetic(protac1LogKon, '#6f6fbf');
kinetic(acbi1LogKon, '#6b9a48');
pd.plot.append('path').datum(sprTime)
  .attr('d', d3.line().x(t => pd.x(t)).y(() => pd.y(kon(sprLogKon))))
  .attr('fill', 'none').attr('stroke', '#000').attr('stroke-width', 2.5).attr('stroke-dasharray', '8,4');
const gyd = drawAxes(pd, timeTicks, konTickExps.map(kon), () => '');
gyd.selectAll('.tick text').each(function (d) {
  const t = d3.select(this).attr('x', -10).attr('dy', '0.45em');
  t.append('tspan').text('10');
  t.append('tspan').attr('font-size', 14).attr('dy', '-0.7em').text(d3.format('d')(Math.round(Math.log10(d))).replace('-', '\u2212'));
});
xLabel(pd, 770, timeLabel);
const kl = svg.append('text').attr('transform', `translate(549,604.5) rotate(-90)`).attr('text-anchor', 'middle').attr('font-size', FONT);
kl.append('tspan').attr('font-style', 'italic').text('k');
kl.append('tspan').attr('font-style', 'italic').attr('font-size', 14).attr('dy', 4).text('on');
kl.append('tspan').attr('dy', -4).text(' (1/M*s)');
panelLetter(524, 462.7, 'd');
legend(818.3, 636, [
  { label: 'PROTAC 1', color: '#6f6fbf', width: 1.8 },
  { label: 'ACBI1', color: '#6b9a48', width: 1.8 },
  { label: 'SPR Rate', color: '#000', width: 2.5, dash: '8,4' }
]);
</script>
</body>
</html>
